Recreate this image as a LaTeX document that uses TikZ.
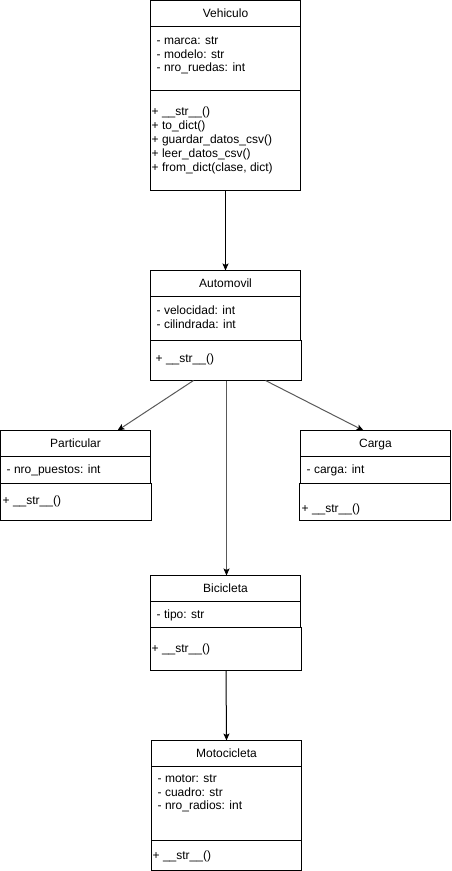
\documentclass[tikz,border=0pt]{standalone}
\usepackage{fontspec}
\setmainfont{Liberation Sans}
\usetikzlibrary{arrows.meta,positioning}
\definecolor{linegray}{HTML}{595959}

\tikzset{
  compart/.style={draw, line width=1pt, anchor=north west, minimum width=150pt,
    inner sep=0pt, outer sep=0pt},
  title/.style={compart, minimum height=26pt, text height=8pt, text depth=0pt},
  member/.style={anchor=base west, inner sep=0pt},
  inherit/.style={-{Stealth[length=7pt,width=6pt,inset=1.5pt,color=black]}, line width=1pt},
}

\begin{document}
\begin{tikzpicture}[x=1pt, y=-1pt, font=\fontsize{12}{14}\selectfont]
\useasboundingbox (-0.5,-0.5) rectangle (450.5,870.5);

% Vehiculo
\node[title] (vehT) at (150,0) {Vehiculo};
\node[compart, minimum height=64pt] (vehA) at (vehT.south west) {};
\node[compart, minimum height=100pt] (vehM) at (vehA.south west) {};
\foreach \t [count=\i] in {- marca: str, - modelo: str, - nro\_ruedas: int}
	\node[member] (vehA\i) at (156,30.5+13.5*\i) {\t};
\foreach \t [count=\i] in {+ \_\_str\_\_(), + to\_dict(), + guardar\_datos\_csv(),
		+ leer\_datos\_csv(), {+ from\_dict(clase, dict)}}
	\node[member] (vehM\i) at (151,101.5+13.8*\i) {\t};

% Automovil
\node[title] (autoT) at (150,270) {Automovil};
\node[compart, minimum height=44pt] (autoA) at (autoT.south west) {};
\node[compart, minimum height=40pt, minimum width=151pt] (autoM) at (autoA.south west) {};
\foreach \t [count=\i] in {- velocidad: int, - cilindrada: int}
	\node[member] (autoA\i) at (156,300.5+13.5*\i) {\t};
\node[member] (autoM1) at (155,362) {+ \_\_str\_\_()};

% Particular
\node[title] (partT) at (0,430) {Particular};
\node[compart, minimum height=27pt] (partA) at (partT.south west) {};
\node[compart, minimum height=37pt, minimum width=151pt] (partM) at (partA.south west) {};
\node[member] (partA1) at (6,473) {- nro\_puestos: int};
\node[member] (partM1) at (2,504) {+ \_\_str\_\_()};

% Carga
\node[title] (cargT) at (300,430) {Carga};
\node[compart, minimum height=27pt] (cargA) at (cargT.south west) {};
\node[compart, minimum height=37pt, minimum width=151pt] (cargM) at (299,483) {};
\node[member] (cargA1) at (306,473) {- carga: int};
\node[member] (cargM1) at (301,512) {+ \_\_str\_\_()};

% Bicicleta
\node[title] (biciT) at (150,575) {Bicicleta};
\node[compart, minimum height=26pt] (biciA) at (biciT.south west) {};
\node[compart, minimum height=43pt, minimum width=151pt] (biciM) at (biciA.south west) {};
\node[member] (biciA1) at (156,618) {- tipo: str};
\node[member] (biciM1) at (151,652) {+ \_\_str\_\_()};

% Motocicleta
\node[title] (motoT) at (151,740) {Motocicleta};
\node[compart, minimum height=74pt] (motoA) at (motoT.south west) {};
\node[compart, minimum height=30pt] (motoM) at (motoA.south west) {};
\foreach \t [count=\i] in {- motor: str, - cuadro: str, - nro\_radios: int}
	\node[member] (motoA\i) at (157,768.5+13.5*\i) {\t};
\node[member] (motoM1) at (152,859) {+ \_\_str\_\_()};

% herencia
\draw[inherit] (vehM.south) -- (autoT.north);
\draw[inherit, linegray] ([xshift=-32.5pt]autoM.south) -- ([xshift=42pt]partT.north);
\draw[inherit, linegray] ([xshift=39.5pt]autoM.south) -- ([xshift=-12pt]cargT.north);
\draw[inherit, linegray] ([xshift=0.5pt]autoM.south) -- ([xshift=1pt]biciT.north);
\draw[inherit] (biciM.south) -- (motoT.north);

\end{tikzpicture}
\end{document}
